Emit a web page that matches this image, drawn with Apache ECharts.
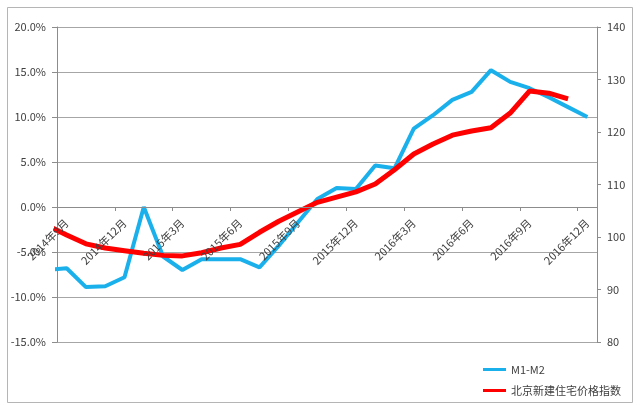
<!DOCTYPE html>
<html>
<head>
<meta charset="utf-8">
<script src="https://cdn.jsdelivr.net/npm/echarts@6/dist/echarts.min.js"></script>
<style>
html,body{margin:0;padding:0;background:#fff;}
#c{width:640px;height:411px;}
</style>
</head>
<body>
<div id="c"></div>
<script>
// categories: first one (2014年8月) lies just left of the visible axis range
const categories = [
  '2014年8月','2014年9月','2014年10月','2014年11月','2014年12月',
  '2015年1月','2015年2月','2015年3月','2015年4月','2015年5月','2015年6月',
  '2015年7月','2015年8月','2015年9月','2015年10月','2015年11月','2015年12月',
  '2016年1月','2016年2月','2016年3月','2016年4月','2016年5月','2016年6月',
  '2016年7月','2016年8月','2016年9月','2016年10月','2016年11月','2016年12月'
];
const m1m2 = [
  -7.0, -6.8, -8.9, -8.8, -7.8,
  0.0, -5.5, -7.0, -5.8, -5.8, -5.8,
  -6.7, -4.3, -1.7, 0.9, 2.1, 2.0,
  4.6, 4.3, 8.7, 10.2, 11.9, 12.8,
  15.2, 13.9, 13.2, 12.2, 11.1, 10.0
];
const bjPrice = [
  102.2, 100.4, 98.7, 97.9, 97.4,
  96.9, 96.5, 96.4, 97.0, 97.9, 98.6,
  100.9, 103.0, 104.8, 106.6, 107.6, 108.6,
  110.1, 112.8, 115.8, 117.7, 119.4, 120.2,
  120.8, 123.6, 127.8, 127.4, 126.3, null
];
const seriesNames = ['M1-M2', '北京新建住宅价格指数'];
const leftAxis = {min: -15, max: 20, interval: 5};
const rightAxis = {min: 80, max: 140, interval: 10};

const FONT = "'Liberation Sans Narrow','Noto Sans CJK SC',sans-serif";
const TXT = '#404040';
const GRID = '#a6a6a6';
const AX = '#8c8c8c';
const showIdx = (i) => (i - 1) % 3 === 0;

// plot area geometry
const G = {left: 57, right: 43, top: 27, bottom: 69};
const plotH = 411 - G.top - G.bottom;
// height of the upper part (max .. 0) of the left axis, where the category axis crosses
const zeroH = plotH * (leftAxis.max - 0) / (leftAxis.max - leftAxis.min);

const chart = echarts.init(document.getElementById('c'));
chart.setOption({
  animation: false,
  backgroundColor: '#fff',
  graphic: [{
    type: 'rect', silent: true, z: -10,
    shape: {x: 7.5, y: 7.5, width: 625, height: 395},
    style: {fill: '#fff', stroke: '#b5b5b5', lineWidth: 1}
  }],
  grid: [
    {left: G.left, right: G.right, top: G.top, bottom: G.bottom, containLabel: false},
    {left: G.left, right: G.right, top: G.top, height: zeroH, containLabel: false}
  ],
  legend: {
    orient: 'vertical', left: 478, top: 359,
    itemWidth: 23, itemHeight: 3, itemGap: 10,
    icon: 'rect',
    textStyle: {fontFamily: FONT, fontSize: 11, color: TXT},
    data: seriesNames
  },
  xAxis: [{
    gridIndex: 0,
    type: 'category',
    data: categories,
    min: 1, max: categories.length - 1,
    boundaryGap: true,
    axisLine: {show: false},
    axisTick: {show: false},
    axisLabel: {show: false},
    splitLine: {show: false}
  }, {
    gridIndex: 1,
    type: 'category',
    data: categories,
    min: 1, max: categories.length - 1,
    boundaryGap: true,
    position: 'bottom',
    z: 5,
    axisLine: {show: true, onZero: false, lineStyle: {color: AX, width: 1}},
    axisTick: {show: true, interval: showIdx, length: 4, lineStyle: {color: AX}},
    axisLabel: {interval: showIdx, rotate: 45, margin: 14, fontFamily: FONT, fontSize: 11, color: TXT},
    splitLine: {show: false}
  }],
  yAxis: [{
    gridIndex: 0,
    type: 'value', position: 'left',
    min: leftAxis.min, max: leftAxis.max, interval: leftAxis.interval,
    axisLine: {show: true, lineStyle: {color: AX}},
    axisTick: {show: true, length: 5, lineStyle: {color: AX}},
    axisLabel: {formatter: (v) => v.toFixed(1) + '%', margin: 11, fontFamily: FONT, fontSize: 11, color: TXT},
    splitLine: {show: true, lineStyle: {color: GRID, width: 1}}
  }, {
    gridIndex: 0,
    type: 'value', position: 'right',
    min: rightAxis.min, max: rightAxis.max, interval: rightAxis.interval,
    axisLine: {show: true, lineStyle: {color: AX}},
    axisTick: {show: true, length: 4, lineStyle: {color: AX}},
    axisLabel: {margin: 10, fontFamily: FONT, fontSize: 11, color: TXT},
    splitLine: {show: false}
  }, {
    gridIndex: 1,
    type: 'value', show: false,
    min: 0, max: leftAxis.max
  }],
  series: [{
    name: seriesNames[0], type: 'line', xAxisIndex: 0, yAxisIndex: 0,
    data: m1m2, showSymbol: false, symbol: 'none', clip: true,
    lineStyle: {color: '#1AB0EC', width: 4},
    itemStyle: {color: '#1AB0EC'}, z: 3
  }, {
    name: seriesNames[1], type: 'line', xAxisIndex: 0, yAxisIndex: 1,
    data: bjPrice, showSymbol: false, symbol: 'none', clip: true,
    lineStyle: {color: '#FF0000', width: 5},
    itemStyle: {color: '#FF0000'}, z: 4
  }]
});
</script>
</body>
</html>
